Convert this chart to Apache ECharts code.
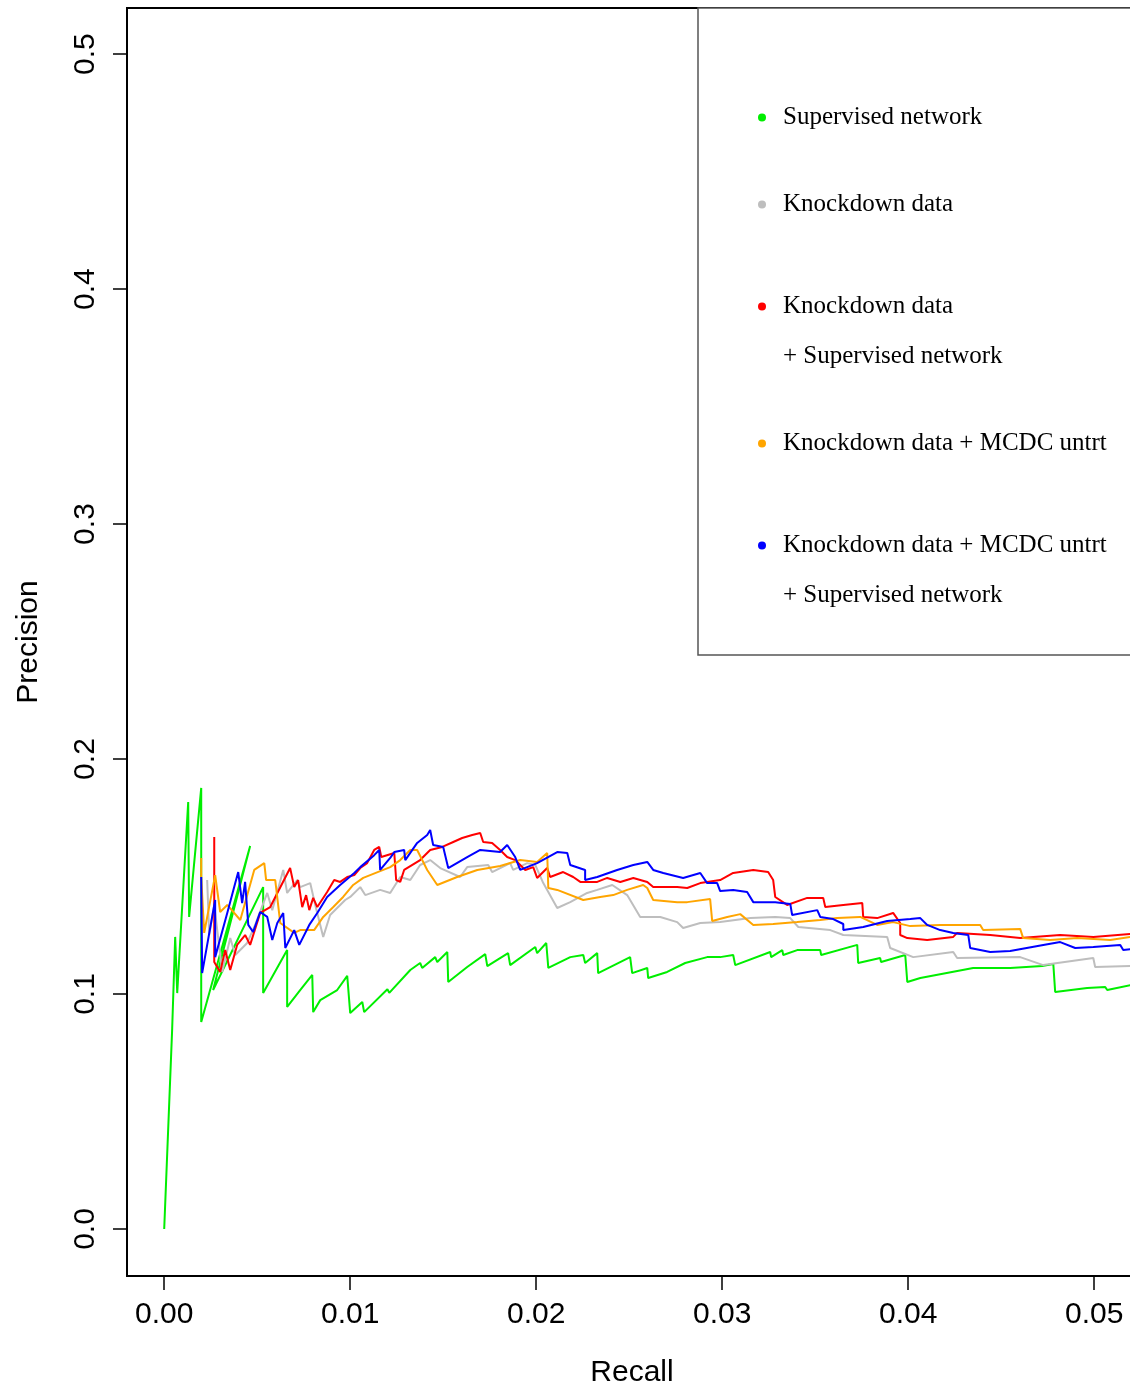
<!DOCTYPE html>
<html>
<head>
<meta charset="utf-8">
<script src="https://cdn.jsdelivr.net/npm/echarts@6/dist/echarts.min.js"></script>
<style>
  html, body { margin: 0; padding: 0; background: #fff; }
  #prChart { width: 1130px; height: 1386px; }
</style>
</head>
<body>
<div id="prChart"></div>
<script>
// [recall, precision]
const supervised = [
  [0, 0], [0.00043, 0.0855], [0.00059, 0.1243], [0.00070, 0.1004], [0.00129, 0.1817], [0.00134, 0.1328],
  [0.00199, 0.1877], [0.00199, 0.0881], [0.00462, 0.1630], [0.00263, 0.1017], [0.00532, 0.1455], [0.00532, 0.1004],
  [0.00661, 0.1187], [0.00661, 0.0945], [0.00731, 0.1017], [0.00796, 0.1081], [0.00801, 0.0923], [0.00839, 0.0974],
  [0.00930, 0.1017], [0.00984, 0.1077], [0.01000, 0.0919], [0.01065, 0.0966], [0.01075, 0.0923], [0.01200, 0.1020],
  [0.01210, 0.1005], [0.01323, 0.1102], [0.01376, 0.1132], [0.01387, 0.1111], [0.01457, 0.1157], [0.01468, 0.1136],
  [0.01522, 0.1179], [0.01527, 0.1051], [0.01629, 0.1115], [0.01726, 0.1170], [0.01737, 0.1119], [0.01849, 0.1174],
  [0.01860, 0.1123], [0.01995, 0.1200], [0.02005, 0.1174], [0.02054, 0.1217], [0.02065, 0.1111], [0.02183, 0.1157],
  [0.02253, 0.1166], [0.02263, 0.1132], [0.02328, 0.1174], [0.02333, 0.1089], [0.02505, 0.1157], [0.02516, 0.1089],
  [0.02597, 0.1111], [0.02602, 0.1068], [0.02704, 0.1094], [0.02801, 0.1132], [0.02919, 0.1157], [0.02989, 0.1157],
  [0.03059, 0.1166], [0.03070, 0.1123], [0.03258, 0.1179], [0.03263, 0.1157], [0.03323, 0.1187], [0.03328, 0.1166],
  [0.03403, 0.1187], [0.03527, 0.1187], [0.03532, 0.1166], [0.03726, 0.1209], [0.03731, 0.1132], [0.03849, 0.1153],
  [0.03854, 0.1136], [0.03984, 0.1166], [0.03995, 0.1051], [0.04065, 0.1068], [0.04349, 0.1111], [0.04548, 0.1111],
  [0.04720, 0.1119], [0.04780, 0.1128], [0.04790, 0.1009], [0.04962, 0.1026], [0.05059, 0.1030], [0.05070, 0.1017],
  [0.05194, 0.1038]
];
const knockdown = [
  [0.00231, 0.1485], [0.00242, 0.1251], [0.00269, 0.1379], [0.00312, 0.1094], [0.00355, 0.1238], [0.00382, 0.1166],
  [0.00446, 0.1217], [0.00489, 0.1294], [0.00554, 0.1430], [0.00581, 0.1357], [0.00640, 0.1528], [0.00661, 0.1430],
  [0.00715, 0.1485], [0.00731, 0.1455], [0.00785, 0.1472], [0.00812, 0.1379], [0.00855, 0.1243], [0.00892, 0.1336],
  [0.00973, 0.1400], [0.01000, 0.1413], [0.01054, 0.1455], [0.01081, 0.1421], [0.01161, 0.1443], [0.01215, 0.1430],
  [0.01269, 0.1498], [0.01323, 0.1485], [0.01376, 0.1549], [0.01430, 0.1570], [0.01484, 0.1536], [0.01591, 0.1498],
  [0.01629, 0.1540], [0.01742, 0.1549], [0.01763, 0.1519], [0.01860, 0.1557], [0.01876, 0.1528], [0.01952, 0.1557],
  [0.01995, 0.1549], [0.02038, 0.1472], [0.02113, 0.1366], [0.02183, 0.1391], [0.02274, 0.1430], [0.02328, 0.1443],
  [0.02409, 0.1464], [0.02489, 0.1421], [0.02559, 0.1328], [0.02667, 0.1328], [0.02758, 0.1306], [0.02790, 0.1281],
  [0.02882, 0.1302], [0.02989, 0.1306], [0.03151, 0.1323], [0.03285, 0.1328], [0.03366, 0.1323], [0.03409, 0.1285],
  [0.03581, 0.1272], [0.03651, 0.1251], [0.03887, 0.1243], [0.03903, 0.1196], [0.04027, 0.1157], [0.04242, 0.1179],
  [0.04263, 0.1153], [0.04602, 0.1157], [0.04726, 0.1123], [0.04995, 0.1153], [0.05005, 0.1115], [0.05194, 0.1119]
];
const knockdownSup = [
  [0.00269, 0.1668], [0.00269, 0.1136], [0.00301, 0.1094], [0.00328, 0.1187], [0.00355, 0.1102], [0.00392, 0.1209],
  [0.00435, 0.1251], [0.00462, 0.1209], [0.00516, 0.1345], [0.00570, 0.1370], [0.00677, 0.1536], [0.00699, 0.1455],
  [0.00720, 0.1485], [0.00742, 0.1370], [0.00763, 0.1421], [0.00780, 0.1357], [0.00801, 0.1409], [0.00823, 0.1370],
  [0.00876, 0.1434], [0.00914, 0.1485], [0.00946, 0.1477], [0.00984, 0.1498], [0.01022, 0.1506], [0.01054, 0.1536],
  [0.01091, 0.1557], [0.01129, 0.1613], [0.01156, 0.1626], [0.01167, 0.1583], [0.01237, 0.1600], [0.01247, 0.1485],
  [0.01269, 0.1477], [0.01290, 0.1528], [0.01376, 0.1570], [0.01430, 0.1613], [0.01495, 0.1626], [0.01554, 0.1647],
  [0.01602, 0.1664], [0.01656, 0.1677], [0.01699, 0.1685], [0.01715, 0.1647], [0.01763, 0.1643], [0.01806, 0.1613],
  [0.01844, 0.1583], [0.01887, 0.1570], [0.01941, 0.1528], [0.01984, 0.1540], [0.02005, 0.1494], [0.02059, 0.1536],
  [0.02075, 0.1498], [0.02145, 0.1519], [0.02199, 0.1498], [0.02237, 0.1477], [0.02328, 0.1477], [0.02382, 0.1494],
  [0.02452, 0.1477], [0.02522, 0.1494], [0.02597, 0.1477], [0.02629, 0.1455], [0.02758, 0.1455], [0.02812, 0.1451],
  [0.02882, 0.1472], [0.02989, 0.1485], [0.03059, 0.1515], [0.03167, 0.1528], [0.03247, 0.1519], [0.03274, 0.1485],
  [0.03285, 0.1413], [0.03349, 0.1379], [0.03457, 0.1409], [0.03543, 0.1409], [0.03554, 0.1370], [0.03651, 0.1379],
  [0.03753, 0.1387], [0.03758, 0.1328], [0.03833, 0.1323], [0.03919, 0.1345], [0.03957, 0.1302], [0.03957, 0.1251],
  [0.03995, 0.1238], [0.04102, 0.1230], [0.04242, 0.1243], [0.04263, 0.1260], [0.04441, 0.1251], [0.04602, 0.1238],
  [0.04817, 0.1251], [0.04995, 0.1243], [0.05194, 0.1255]
];
const knockdownMcdc = [
  [0.00199, 0.1579], [0.00199, 0.1498], [0.00215, 0.1260], [0.00274, 0.1506], [0.00301, 0.1349], [0.00339, 0.1379],
  [0.00409, 0.1315], [0.00484, 0.1528], [0.00538, 0.1557], [0.00548, 0.1485], [0.00597, 0.1485], [0.00624, 0.1302],
  [0.00699, 0.1260], [0.00731, 0.1272], [0.00806, 0.1272], [0.00855, 0.1328], [0.00909, 0.1370], [0.00962, 0.1413],
  [0.01016, 0.1464], [0.01070, 0.1494], [0.01215, 0.1540], [0.01269, 0.1570], [0.01323, 0.1613], [0.01360, 0.1613],
  [0.01387, 0.1570], [0.01414, 0.1528], [0.01468, 0.1464], [0.01575, 0.1498], [0.01683, 0.1528], [0.01806, 0.1545],
  [0.01914, 0.1570], [0.02005, 0.1562], [0.02059, 0.1600], [0.02065, 0.1451], [0.02113, 0.1443], [0.02253, 0.1400],
  [0.02344, 0.1413], [0.02414, 0.1421], [0.02489, 0.1443], [0.02575, 0.1464], [0.02597, 0.1451], [0.02629, 0.1400],
  [0.02758, 0.1391], [0.02812, 0.1391], [0.02935, 0.1404], [0.02946, 0.1311], [0.03027, 0.1328], [0.03097, 0.1340],
  [0.03167, 0.1294], [0.03274, 0.1298], [0.03403, 0.1306], [0.03527, 0.1315], [0.03618, 0.1323], [0.03742, 0.1328],
  [0.03833, 0.1294], [0.03919, 0.1306], [0.04011, 0.1289], [0.04172, 0.1294], [0.04387, 0.1294], [0.04403, 0.1272],
  [0.04602, 0.1277], [0.04618, 0.1238], [0.04763, 0.1230], [0.04909, 0.1238], [0.05086, 0.1230], [0.05194, 0.1243]
];
const knockdownMcdcSup = [
  [0.00199, 0.1498], [0.00204, 0.1089], [0.00274, 0.1400], [0.00274, 0.1157], [0.00339, 0.1345], [0.00382, 0.1472],
  [0.00398, 0.1519], [0.00419, 0.1387], [0.00435, 0.1477], [0.00452, 0.1294], [0.00478, 0.1264], [0.00516, 0.1349],
  [0.00554, 0.1328], [0.00581, 0.1230], [0.00608, 0.1302], [0.00640, 0.1345], [0.00651, 0.1196], [0.00699, 0.1272],
  [0.00726, 0.1209], [0.00780, 0.1294], [0.00823, 0.1345], [0.00876, 0.1413], [0.00946, 0.1464], [0.01022, 0.1515],
  [0.01054, 0.1540], [0.01129, 0.1591], [0.01156, 0.1613], [0.01161, 0.1528], [0.01215, 0.1579], [0.01237, 0.1604],
  [0.01290, 0.1613], [0.01296, 0.1570], [0.01360, 0.1643], [0.01414, 0.1677], [0.01430, 0.1698], [0.01446, 0.1634],
  [0.01500, 0.1626], [0.01527, 0.1536], [0.01629, 0.1583], [0.01699, 0.1613], [0.01806, 0.1604], [0.01844, 0.1634],
  [0.01887, 0.1583], [0.01914, 0.1528], [0.02005, 0.1557], [0.02113, 0.1604], [0.02167, 0.1600], [0.02183, 0.1549],
  [0.02263, 0.1528], [0.02263, 0.1485], [0.02328, 0.1498], [0.02435, 0.1528], [0.02522, 0.1549], [0.02597, 0.1562],
  [0.02629, 0.1528], [0.02683, 0.1515], [0.02790, 0.1494], [0.02882, 0.1515], [0.02919, 0.1472], [0.02973, 0.1472],
  [0.02989, 0.1438], [0.03059, 0.1443], [0.03134, 0.1434], [0.03167, 0.1391], [0.03285, 0.1391], [0.03366, 0.1383],
  [0.03376, 0.1336], [0.03511, 0.1357], [0.03527, 0.1328], [0.03597, 0.1319], [0.03651, 0.1298], [0.03651, 0.1272],
  [0.03758, 0.1285], [0.03887, 0.1311], [0.04011, 0.1319], [0.04065, 0.1323], [0.04102, 0.1294], [0.04172, 0.1272],
  [0.04242, 0.1260], [0.04323, 0.1251], [0.04333, 0.1196], [0.04441, 0.1179], [0.04548, 0.1183], [0.04726, 0.1209],
  [0.04817, 0.1221], [0.04898, 0.1196], [0.04995, 0.1200], [0.05140, 0.1209], [0.05156, 0.1187], [0.05194, 0.1191]
];

const seriesNames = ['Supervised network', 'Knockdown data', 'Knockdown data\n+ Supervised network',
  'Knockdown data + MCDC untrt', 'Knockdown data + MCDC untrt\n+ Supervised network'];
const seriesColors = ['#00ee00', '#bebebe', '#ff0000', '#ffa500', '#0000ff'];
const seriesData = [supervised, knockdown, knockdownSup, knockdownMcdc, knockdownMcdcSup];

const xTickValues = [0, 0.01, 0.02, 0.03, 0.04, 0.05];
const xTickLabels = ['0.00', '0.01', '0.02', '0.03', '0.04', '0.05'];
const yTickValues = [0, 0.1, 0.2, 0.3, 0.4, 0.5];
const yTickLabels = ['0.0', '0.1', '0.2', '0.3', '0.4', '0.5'];

const legendTops = [105, 192, 294, 431, 533];

let chart = echarts.init(document.getElementById('prChart'));

let legends = seriesNames.map(function (name, i) {
  return {
    data: [name],
    left: 758,
    top: legendTops[i],
    padding: 0,
    icon: 'circle',
    itemWidth: 8,
    itemHeight: 8,
    selectedMode: false,
    formatter: function (n) { return n.split('\n')[0]; },
    textStyle: {
      fontFamily: 'Liberation Serif',
      fontSize: 25,
      color: '#000',
      padding: [0, 0, 0, 12]
    }
  };
});

let option = {
  animation: false,
  backgroundColor: '#fff',
  grid: {
    left: 127,
    top: 8,
    width: 1010,
    height: 1268,
    show: true,
    borderColor: '#000',
    borderWidth: 2,
    outerBoundsMode: 'none',
    containLabel: false
  },
  legend: legends,
  graphic: [
    {
      type: 'rect',
      z: 0,
      shape: { x: 698, y: 8, width: 450, height: 647 },
      style: { fill: '#fff', stroke: '#555', lineWidth: 1.5 }
    },
    {
      type: 'text',
      style: { x: 783, y: 356, text: '+ Supervised network', font: '25px "Liberation Serif"', fill: '#000', verticalAlign: 'middle' }
    },
    {
      type: 'text',
      style: { x: 783, y: 595, text: '+ Supervised network', font: '25px "Liberation Serif"', fill: '#000', verticalAlign: 'middle' }
    }
  ],
  xAxis: {
    type: 'value',
    min: -0.002,
    max: 0.0523,
    name: 'Recall',
    nameLocation: 'middle',
    nameGap: 82,
    nameTextStyle: { fontFamily: 'Liberation Sans', fontSize: 30, color: '#000' },
    axisLine: { show: false, onZero: false },
    splitLine: { show: false },
    axisTick: {
      show: true,
      length: 14,
      customValues: xTickValues,
      lineStyle: { color: '#000', width: 1.5 }
    },
    axisLabel: {
      customValues: xTickValues,
      margin: 24,
      fontFamily: 'Liberation Sans',
      fontSize: 30,
      color: '#000',
      formatter: function (v) {
        let k = xTickValues.findIndex(function (t) { return Math.abs(t - v) < 1e-9; });
        return k >= 0 ? xTickLabels[k] : '';
      }
    }
  },
  yAxis: {
    type: 'value',
    min: -0.02,
    max: 0.5196,
    name: 'Precision',
    nameLocation: 'middle',
    nameGap: 83,
    nameTextStyle: { fontFamily: 'Liberation Sans', fontSize: 30, color: '#000' },
    axisLine: { show: false, onZero: false },
    splitLine: { show: false },
    axisTick: {
      show: true,
      length: 14,
      customValues: yTickValues,
      lineStyle: { color: '#000', width: 1.5 }
    },
    axisLabel: {
      customValues: yTickValues,
      rotate: 90,
      align: 'center',
      verticalAlign: 'bottom',
      margin: 26,
      fontFamily: 'Liberation Sans',
      fontSize: 30,
      color: '#000',
      formatter: function (v) {
        let k = yTickValues.findIndex(function (t) { return Math.abs(t - v) < 1e-9; });
        return k >= 0 ? yTickLabels[k] : '';
      }
    }
  },
  series: seriesNames.map(function (name, i) {
    return {
      name: name,
      type: 'line',
      data: seriesData[i],
      color: seriesColors[i],
      showSymbol: false,
      clip: true,
      lineStyle: { width: 2, color: seriesColors[i] }
    };
  })
};

chart.setOption(option);
</script>
</body>
</html>
